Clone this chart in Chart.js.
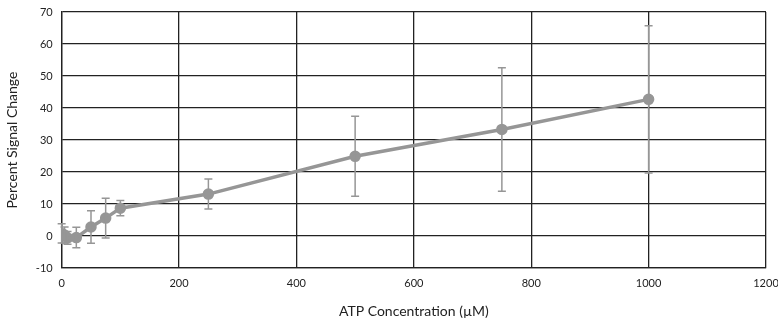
<!DOCTYPE html>
<html>
<head>
<meta charset="utf-8">
<script src="https://cdn.jsdelivr.net/npm/chart.js@4"></script>
<style>
  html, body { margin: 0; padding: 0; background: #fff; }
  #wrap { width: 778px; height: 324px; }
</style>
</head>
<body>
<div id="wrap"><canvas id="graph"></canvas></div>
<script>
// ATP concentration (uM) and mean percent signal change with +/- error
const concentrations = [0, 5, 10, 25, 50, 75, 100, 250, 500, 750, 1000];
const signalChange = [0.8, 0.3, -0.6, -0.5, 2.8, 5.6, 8.7, 13.1, 24.9, 33.3, 42.7];
const errors = [3.0, 2.5, 2.0, 3.2, 5.1, 6.2, 2.4, 4.7, 12.5, 19.3, 23.0];
const xTicks = [0, 200, 400, 600, 800, 1000, 1200];
const yTicks = [-10, 0, 10, 20, 30, 40, 50, 60, 70];

const grey = 'rgb(150,150,150)';
const fontFamily = 'Lato, "Open Sans", sans-serif';

// draws vertical error bars through the chart's own scales
const errorBars = {
    id: 'errorBars',
    afterDatasetsDraw(chart) {
        const c = chart.ctx;
        const xs = chart.scales.x;
        const ys = chart.scales.y;
        c.save();
        c.strokeStyle = grey;
        c.lineWidth = 1.5;
        concentrations.forEach((x, i) => {
            const px = xs.getPixelForValue(x);
            const top = ys.getPixelForValue(signalChange[i] + errors[i]);
            const bot = ys.getPixelForValue(signalChange[i] - errors[i]);
            c.beginPath();
            c.moveTo(px, top); c.lineTo(px, bot);
            c.moveTo(px - 4, top); c.lineTo(px + 4, top);
            c.moveTo(px - 4, bot); c.lineTo(px + 4, bot);
            c.stroke();
        });
        c.restore();
    }
};

const ctx = document.getElementById('graph').getContext('2d');
const chart = new Chart(ctx, {
    type: 'scatter',
    data: {
        datasets: [{
            data: concentrations.map((x, i) => ({ x: x, y: signalChange[i] })),
            showLine: true,
            borderColor: grey,
            backgroundColor: grey,
            borderWidth: 3.5,
            pointRadius: 4,
            pointHoverRadius: 4,
        }],
    },
    options: {
        responsive: true,
        maintainAspectRatio: false,
        animation: false,
        layout: { padding: { left: 0, right: 0, top: 12, bottom: 0 } },
        plugins: { legend: { display: false }, tooltip: { enabled: false } },
        scales: {
            x: {
                type: 'linear',
                min: 0,
                max: 1200,
                afterBuildTicks: (axis) => { axis.ticks = xTicks.map(v => ({ value: v })); },
                afterFit: (axis) => { axis.paddingRight = 12; },
                grid: { color: '#222', lineWidth: 1.3, drawTicks: false },
                border: { color: '#222', width: 1.3 },
                ticks: { color: '#222', font: { family: fontFamily, size: 11 }, padding: 9, maxRotation: 0,
                         callback: (v) => String(v) },
                title: { display: true, text: 'ATP Concentration (µM)', color: '#222', font: { family: fontFamily, size: 14 }, padding: { top: 4 } },
            },
            y: {
                min: -10,
                max: 70,
                afterBuildTicks: (axis) => { axis.ticks = yTicks.map(v => ({ value: v })); },
                afterFit: (axis) => { axis.paddingTop = 0; },
                grid: { color: '#222', lineWidth: 1.3, drawTicks: false },
                border: { color: '#222', width: 1.3 },
                ticks: { color: '#222', font: { family: fontFamily, size: 11 }, padding: 9 },
                title: { display: true, text: 'Percent Signal Change', color: '#222', font: { family: fontFamily, size: 14 }, padding: { bottom: 6 } },
            },
        },
    },
    plugins: [errorBars],
});
</script>
</body>
</html>
